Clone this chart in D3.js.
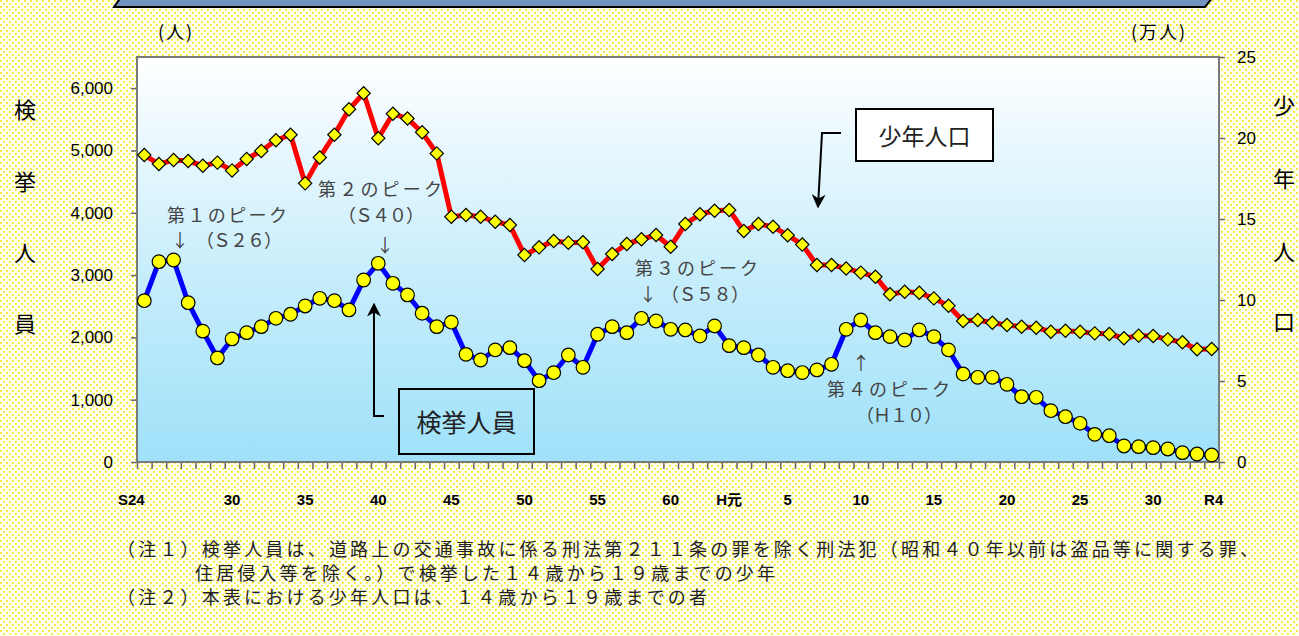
<!DOCTYPE html>
<html><head><meta charset="utf-8">
<script src="https://cdn.jsdelivr.net/npm/d3@7"></script>
<style>html,body{margin:0;padding:0;background:#fff;overflow:hidden;} svg{display:block;}</style>
</head><body>
<svg id="chart" width="1299" height="636"></svg>
<script>
// ---- data ----
const years = d3.range(1949, 2023); // S24 .. R4
const arrests = [
  2589,3215,3242,2557,2100,1670,1975,2076,2172,2306,
  2371,2504,2627,2589,2440,2921,3189,2868,2681,2387,
  2172,2244,1728,1637,1798,1835,1626,1305,1433,1717,
  1520,2050,2172,2076,2306,2263,2130,2119,2022,2183,
  1867,1835,1717,1520,1465,1436,1477,1568,2130,2279,
  2076,2012,1958,2119,2012,1798,1412,1359,1359,1247,
  1048,1038,823,727,621,444,422,257,246,230,
  209,150,128,112
];
const population = [
  18.95,18.39,18.64,18.58,18.29,18.48,18.0,18.7,19.2,19.86,
  20.2,17.2,18.8,20.2,21.77,22.76,19.98,21.5,21.2,20.35,
  19.05,15.14,15.25,15.14,14.83,14.63,12.78,13.25,13.64,13.54,
  13.56,11.91,12.84,13.46,13.75,14.01,13.29,14.69,15.29,15.51,
  15.56,14.26,14.69,14.52,14.0,13.42,12.16,12.16,11.95,11.69,
  11.44,10.35,10.51,10.45,10.1,9.65,8.70,8.77,8.6,8.46,
  8.35,8.29,8.04,8.1,8.04,7.94,7.9,7.64,7.8,7.78,
  7.57,7.39,6.96,6.98
];
const leftTicks = [0,1000,2000,3000,4000,5000,6000];
const rightTicks = [0,5,10,15,20,25];
const tickYears  = [1949,1955,1960,1965,1970,1975,1980,1985,1989,1993,1998,2003,2008,2013,2018,2022];
const tickLabels = ["S24","30","35","40","45","50","55","60","H元","5","10","15","20","25","30","R4"];
const notes = [
  "（注１）検挙人員は、道路上の交通事故に係る刑法第２１１条の罪を除く刑法犯（昭和４０年以前は盗品等に関する罪、",
  "住居侵入等を除く。）で検挙した１４歳から１９歳までの少年",
  "（注２）本表における少年人口は、１４歳から１９歳までの者"
];

// ---- layout ----
const plot = {left:137, right:1219, top:57, bottom:462};
const JP = "'Noto Sans CJK JP','Noto Sans',sans-serif";
const LAT = "'Liberation Sans',Arial,'Noto Sans CJK JP',sans-serif";
const svg = d3.select("#chart");
const defs = svg.append("defs");

const pat = defs.append("pattern").attr("id","dots").attr("width",6).attr("height",6)
  .attr("patternUnits","userSpaceOnUse");
pat.append("rect").attr("width",6).attr("height",6).attr("fill","#fffff2");
pat.append("rect").attr("x",0).attr("y",0).attr("width",1.7).attr("height",1.7).attr("fill","#f1e80c");
pat.append("rect").attr("x",3).attr("y",3).attr("width",1.7).attr("height",1.7).attr("fill","#f1e80c");

const grad = defs.append("linearGradient").attr("id","bg").attr("x1",0).attr("y1",0).attr("x2",0).attr("y2",1);
grad.append("stop").attr("offset","0%").attr("stop-color","#ffffff");
grad.append("stop").attr("offset","55%").attr("stop-color","#c6edfb");
grad.append("stop").attr("offset","100%").attr("stop-color","#9fe1f9");

defs.append("marker").attr("id","arr").attr("viewBox","0 0 10 10")
  .attr("refX",9).attr("refY",5).attr("markerWidth",14).attr("markerHeight",14)
  .attr("markerUnits","userSpaceOnUse").attr("orient","auto")
  .append("path").attr("d","M0,0 L10,5 L0,10 L3,5 Z").attr("fill","#000");

svg.append("rect").attr("width",1299).attr("height",636).attr("fill","url(#dots)");

// banner at top (cut off title box)
svg.append("path").attr("d","M121,-3 L1213,-3 L1205,7 L114,7 Z")
  .attr("fill","#7193bd").attr("stroke","#000").attr("stroke-width",2);

// plot background
svg.append("rect").attr("x",plot.left).attr("y",plot.top)
  .attr("width",plot.right-plot.left).attr("height",plot.bottom-plot.top)
  .attr("fill","url(#bg)");

// ---- scales ----
const x = d3.scaleBand().domain(years).range([plot.left, plot.right]).padding(0);
const xc = d => x(d) + x.bandwidth()/2;
const yL = d3.scaleLinear().domain([0,6500]).range([plot.bottom, plot.top]);
const yR = d3.scaleLinear().domain([0,25]).range([plot.bottom, plot.top]);
const xb = d3.scaleLinear().domain([0, years.length]).range([plot.left, plot.right]);

// ---- axes ----
const gL = svg.append("g").attr("transform",`translate(${plot.left},0)`)
  .call(d3.axisLeft(yL).tickValues(leftTicks).tickFormat(d3.format(",")).tickSize(6).tickPadding(18).tickSizeOuter(0));
const gR = svg.append("g").attr("transform",`translate(${plot.right},0)`)
  .call(d3.axisRight(yR).tickValues(rightTicks).tickSize(6).tickPadding(12).tickSizeOuter(0));
const gB = svg.append("g").attr("transform",`translate(0,${plot.bottom})`)
  .call(d3.axisBottom(xb).tickValues(d3.range(years.length+1)).tickFormat("").tickSize(7).tickSizeOuter(0));
[gL,gR,gB].forEach(g=>{
  g.selectAll("path.domain").remove();
  g.selectAll(".tick line").attr("stroke","#666").attr("stroke-width",1.5);
  g.selectAll("text").attr("font-family",LAT).attr("font-size",17).attr("fill","#000");
});

// x category labels
svg.append("g").selectAll("text").data(tickYears).join("text")
  .attr("x",(d,i)=> xc(d) + (i===0 ? -13 : (i===tickYears.length-1 ? 2 : 0)))
  .attr("y",505).attr("text-anchor","middle")
  .attr("font-family",LAT).attr("font-size",15).attr("font-weight","bold")
  .text((d,i)=>tickLabels[i]);

// plot border
svg.append("rect").attr("x",plot.left).attr("y",plot.top)
  .attr("width",plot.right-plot.left).attr("height",plot.bottom-plot.top)
  .attr("fill","none").attr("stroke","#7a7a7a").attr("stroke-width",2);

// ---- series ----
const lineL = d3.line().x((d,i)=>xc(years[i])).y(d=>yL(d));
const lineR = d3.line().x((d,i)=>xc(years[i])).y(d=>yR(d));
svg.append("path").datum(population).attr("d",lineR)
  .attr("fill","none").attr("stroke","#ff0000").attr("stroke-width",5).attr("stroke-linejoin","round");
svg.append("path").datum(arrests).attr("d",lineL)
  .attr("fill","none").attr("stroke","#0000ff").attr("stroke-width",5).attr("stroke-linejoin","round");

const diamond = d3.symbol().type(d3.symbolSquare).size(88);
svg.append("g").selectAll("path").data(population).join("path")
  .attr("d",diamond)
  .attr("transform",(d,i)=>`translate(${xc(years[i])},${yR(d)}) rotate(45)`)
  .attr("fill","#ffff00").attr("stroke","#000").attr("stroke-width",1.2);
svg.append("g").selectAll("circle").data(arrests).join("circle")
  .attr("cx",(d,i)=>xc(years[i])).attr("cy",d=>yL(d)).attr("r",6.8)
  .attr("fill","#ffff00").attr("stroke","#000").attr("stroke-width",1.2);

// ---- axis titles ----
const leftTitle = ["検","挙","人","員"], leftTitleY = [108,180,251,322];
svg.append("g").selectAll("text").data(leftTitle).join("text")
  .attr("x",25).attr("y",(d,i)=>leftTitleY[i]).attr("text-anchor","middle")
  .attr("dominant-baseline","central").attr("font-family",JP).attr("font-size",22).text(d=>d);
const rightTitle = ["少","年","人","口"], rightTitleY = [104,177,250,320];
svg.append("g").selectAll("text").data(rightTitle).join("text")
  .attr("x",1284).attr("y",(d,i)=>rightTitleY[i]).attr("text-anchor","middle")
  .attr("dominant-baseline","central").attr("font-family",JP).attr("font-size",22).text(d=>d);
svg.append("text").attr("x",176).attr("y",39).attr("text-anchor","middle").attr("font-family",JP).attr("font-size",18)
  .attr("letter-spacing",2).text("(人)");
svg.append("text").attr("x",1159).attr("y",39).attr("text-anchor","middle").attr("font-family",JP).attr("font-size",18)
  .attr("letter-spacing",2).text("(万人)");

// ---- annotations ----
const ann = svg.append("g").attr("font-family",JP).attr("font-size",18).attr("fill","#444");
function t(str, x0, y0, len){ const e = ann.append("text").attr("x",x0).attr("y",y0).text(str);
  if(len) e.attr("textLength",len).attr("lengthAdjust","spacing"); return e; }
t("第１のピーク",167,222,120);
t("↓",171,247);
t("（Ｓ２６）",196,247,86);
t("第２のピーク",318,196,124);
t("（Ｓ４０）",338,222,86);
t("↓",376,252);
t("第３のピーク",635,275,123);
t("↓",639,301);
t("（Ｓ５８）",661,301,88);
t("↑",852,370);
t("第４のピーク",827,396,123);
t("（Ｈ１０）",856,422,86);

// ---- label boxes with arrows ----
svg.append("rect").attr("x",856).attr("y",109).attr("width",137).attr("height",52)
  .attr("fill","#fff").attr("stroke","#000").attr("stroke-width",2);
svg.append("text").attr("x",924.5).attr("y",135).attr("text-anchor","middle").attr("dominant-baseline","central")
  .attr("font-family",JP).attr("font-size",23).attr("fill","#222").text("少年人口");
svg.append("path").attr("d","M841,133 L822,133 L818,207").attr("fill","none")
  .attr("stroke","#000").attr("stroke-width",2).attr("marker-end","url(#arr)");

svg.append("rect").attr("x",399).attr("y",389).attr("width",135).attr("height",65)
  .attr("fill","none").attr("stroke","#000").attr("stroke-width",2);
svg.append("text").attr("x",466.5).attr("y",421).attr("text-anchor","middle").attr("dominant-baseline","central")
  .attr("font-family",JP).attr("font-size",25).attr("fill","#222").text("検挙人員");
svg.append("path").attr("d","M384,416 L374,416 L374,304").attr("fill","none")
  .attr("stroke","#000").attr("stroke-width",2).attr("marker-end","url(#arr)");

// ---- notes ----
const noteX = [117,195,117], noteY = [556,580,604], noteLen = [1141,580,590];
svg.append("g").selectAll("text").data(notes).join("text")
  .attr("x",(d,i)=>noteX[i]).attr("y",(d,i)=>noteY[i])
  .attr("textLength",(d,i)=>noteLen[i]).attr("lengthAdjust","spacing")
  .attr("font-family",JP).attr("font-size",18).attr("fill","#222").text(d=>d);
</script>
</body></html>
